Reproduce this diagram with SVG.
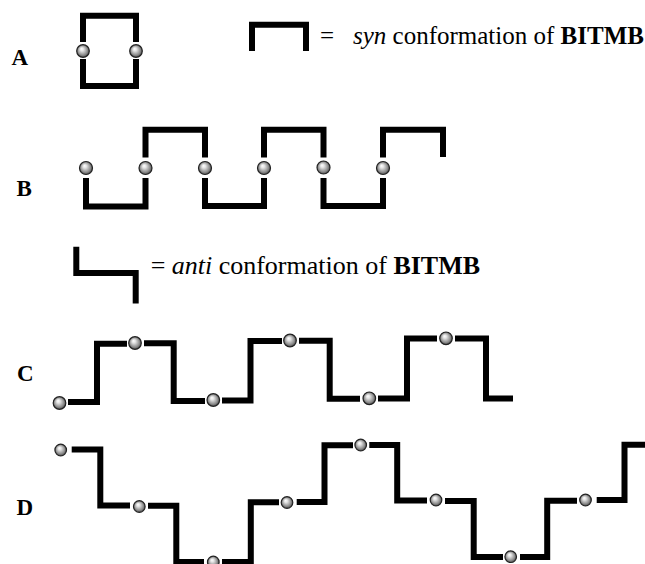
<svg xmlns="http://www.w3.org/2000/svg" width="645" height="564" viewBox="0 0 645 564">
  <defs>
    <radialGradient id="sphere" cx="50%" cy="50%" r="55%" fx="38%" fy="32%">
      <stop offset="0" stop-color="#ffffff"/>
      <stop offset="0.25" stop-color="#e4e4e4"/>
      <stop offset="0.7" stop-color="#8c8c8c"/>
      <stop offset="1" stop-color="#3a3a3a"/>
    </radialGradient>
  </defs>
  <style>
    .bar { fill: none; stroke: #000; stroke-width: 6; stroke-linejoin: miter; stroke-linecap: butt; }
    .ball { fill: url(#sphere); stroke: #222; stroke-width: 1.2; }
    .lbl { font-family: "Liberation Serif", "Times New Roman", serif; font-weight: bold; font-size: 23px; fill: #000; }
    .txt { font-family: "Liberation Serif", "Times New Roman", serif; font-size: 25px; fill: #000; }
    .txt2 { font-family: "Liberation Serif", "Times New Roman", serif; font-size: 26px; fill: #000; }
    .it { font-style: italic; }
    .bd { font-weight: bold; }
  </style>

  <rect width="645" height="564" fill="#fff"/>

  <!-- row labels -->
  <g id="labels">
    <text class="lbl" x="11.5" y="64.5">A</text>
    <text class="lbl" x="16.5" y="196">B</text>
    <text class="lbl" x="17" y="381">C</text>
    <text class="lbl" x="16.5" y="515">D</text>
  </g>

  <!-- legend: syn unit -->
  <g id="legend-syn">
    <path class="bar" d="M252,51 V24.7 H306 V51"/>
    <text class="txt" x="327" y="44" text-anchor="middle">=</text>
    <text class="txt" x="353" y="44"><tspan class="it">syn</tspan> conformation of <tspan class="bd">BITMB</tspan></text>
  </g>

  <!-- legend: anti unit -->
  <g id="legend-anti">
    <path class="bar" d="M76.3,246.7 V273 H135.7 V303.5"/>
    <text class="txt2" x="158" y="274" text-anchor="middle">=</text>
    <text class="txt2" x="171.7" y="274"><tspan class="it">anti</tspan> conformation of <tspan class="bd">BITMB</tspan></text>
  </g>

  <!-- A: cyclic dimer of two syn units -->
  <g id="chain-a">
    <path class="bar" d="M83,42 V15.7 H136 V42"/>
    <path class="bar" d="M83,59 V86 H136 V59"/>
    <circle class="ball" cx="83" cy="51" r="6.3"/>
    <circle class="ball" cx="136" cy="51" r="6.3"/>
  </g>

  <!-- B: zig-zag chain of syn units -->
  <g id="chain-b">
    <path class="bar" d="M86,178 V206.5 H145.5 V178"/>
    <path class="bar" d="M145.5,157.5 V129.7 H205 V157.5"/>
    <path class="bar" d="M205,178 V206 H264 V178"/>
    <path class="bar" d="M264,157.5 V129.7 H323.5 V157.5"/>
    <path class="bar" d="M323.5,178 V206 H383 V178"/>
    <path class="bar" d="M383,157.5 V129.7 H443 V157"/>
    <circle class="ball" cx="86" cy="168" r="6.5"/>
    <circle class="ball" cx="145.5" cy="168" r="6.5"/>
    <circle class="ball" cx="205" cy="168" r="6.5"/>
    <circle class="ball" cx="264" cy="168" r="6.5"/>
    <circle class="ball" cx="323.5" cy="167.5" r="6.5"/>
    <circle class="ball" cx="383" cy="168" r="6.5"/>
  </g>

  <!-- C: stepped chain of anti units -->
  <g id="chain-c">
    <path class="bar" d="M68,402 H97 V343.7 H127"/>
    <path class="bar" d="M144,343.2 H173.7 V401 H205"/>
    <path class="bar" d="M222,400.5 H250.5 V341 H282"/>
    <path class="bar" d="M299,340.7 H329.7 V398.7 H360"/>
    <path class="bar" d="M378,398.5 H407 V338.5 H437"/>
    <path class="bar" d="M455,338.5 H486 V398.5 H513"/>
    <circle class="ball" cx="59.5" cy="403" r="6.3"/>
    <circle class="ball" cx="135" cy="343" r="6.3"/>
    <circle class="ball" cx="213.3" cy="400" r="6.3"/>
    <circle class="ball" cx="290" cy="340.5" r="6.3"/>
    <circle class="ball" cx="369.3" cy="398.3" r="6.3"/>
    <circle class="ball" cx="446" cy="338.3" r="6.3"/>
  </g>

  <!-- D: terraced chain of anti units -->
  <g id="chain-d">
    <path class="bar" d="M71.7,449.5 H100.3 V505.5 H130"/>
    <path class="bar" d="M148,505.8 H176.3 V562 H204"/>
    <path class="bar" d="M222,562 H250.8 V502.3 H279"/>
    <path class="bar" d="M296.7,502 H324.5 V445.3 H353"/>
    <path class="bar" d="M369.3,445 H397.2 V500.5 H427"/>
    <path class="bar" d="M445,501 H473.7 V557 H503"/>
    <path class="bar" d="M520,557 H547.2 V500.7 H577"/>
    <path class="bar" d="M596.7,500 H624.5 V444.7 H645"/>
    <circle class="ball" cx="60.7" cy="450" r="5.8"/>
    <circle class="ball" cx="139.3" cy="506.5" r="5.8"/>
    <circle class="ball" cx="213.3" cy="562" r="5.8"/>
    <circle class="ball" cx="287" cy="502.5" r="5.8"/>
    <circle class="ball" cx="360.7" cy="445" r="5.8"/>
    <circle class="ball" cx="436" cy="500" r="5.8"/>
    <circle class="ball" cx="510.7" cy="556.7" r="5.8"/>
    <circle class="ball" cx="585.5" cy="500" r="5.8"/>
  </g>
</svg>
